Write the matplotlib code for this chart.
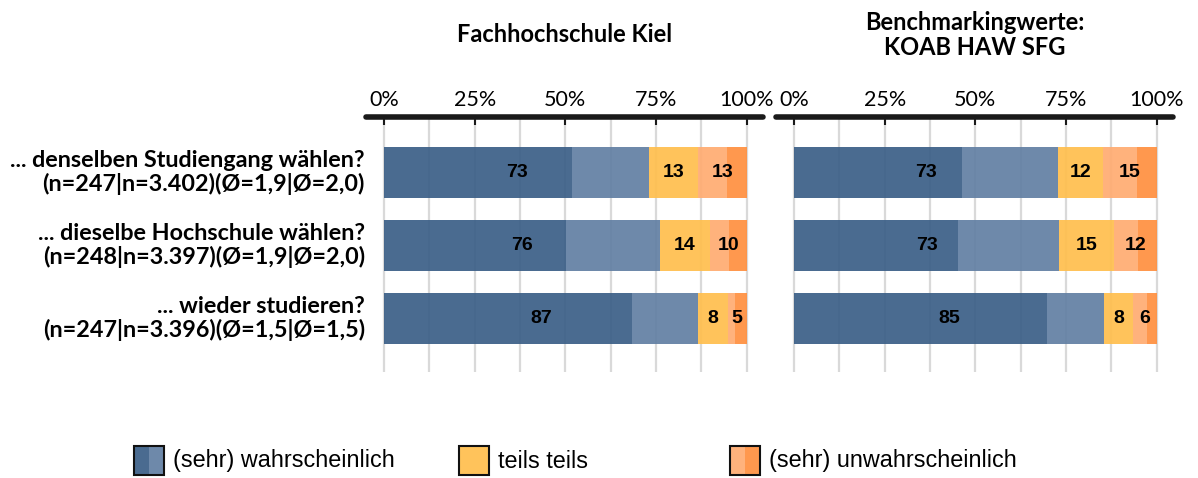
import matplotlib
matplotlib.use("Agg")
import matplotlib.pyplot as plt
from matplotlib.patches import Rectangle
import numpy as np

# questions (two lines each)
questions = ["... denselben Studiengang wählen?",
             "... dieselbe Hochschule wählen?",
             "... wieder studieren?"]
n_info = ["(n=247|n=3.402)(Ø=1,9|Ø=2,0)",
          "(n=248|n=3.397)(Ø=1,9|Ø=2,0)",
          "(n=247|n=3.396)(Ø=1,5|Ø=1,5)"]

# Fachhochschule Kiel (%)
kiel_sehr_w = [51.7, 50.2, 68.4]
kiel_w = [21.4, 25.9, 18.2]
kiel_teils = [13.6, 13.7, 8.2]
kiel_u = [7.9, 5.3, 2.1]
kiel_sehr_u = [5.4, 4.9, 3.1]
kiel_lbl_w = [73, 76, 87]
kiel_lbl_t = [13, 14, 8]
kiel_lbl_u = [13, 10, 5]

# Benchmarking KOAB HAW SFG (%)
koab_sehr_w = [46.2, 45.1, 69.7]
koab_w = [26.5, 28.0, 15.8]
koab_teils = [12.5, 15.0, 8.0]
koab_u = [9.3, 6.8, 3.8]
koab_sehr_u = [5.5, 5.1, 2.7]
koab_lbl_w = [73, 73, 85]
koab_lbl_t = [12, 15, 8]
koab_lbl_u = [15, 12, 6]

ticks = [0, 25, 50, 75, 100]
tick_labels = ["0%", "25%", "50%", "75%", "100%"]

legend_labels = ["(sehr) wahrscheinlich", "teils teils", "(sehr) unwahrscheinlich"]

# base colours (drawn with alpha so grid lines shine through)
c_dblue = "#3c6088"
c_lblue = "#6380a4"
c_yellow = "#ffbf4e"
c_lorange = "#ffac72"
c_orange = "#ff9040"
c_grid = "#d9d9d9"
bar_alpha = 0.93

label_font = ["Lato", "DejaVu Sans"]
num_font = ["Liberation Sans Narrow", "Liberation Sans", "DejaVu Sans"]
leg_font = ["Liberation Sans Narrow", "Liberation Sans", "DejaVu Sans"]

W, H = 1198, 478
fig = plt.figure(figsize=(W / 100, H / 100), dpi=100)

def px_axes(x0, x1, y0, y1):
    return fig.add_axes([x0 / W, 1 - y1 / H, (x1 - x0) / W, (y1 - y0) / H])

ppu = 3.627  # pixels per percent
panels = [
    (384, [kiel_sehr_w, kiel_w, kiel_teils, kiel_u, kiel_sehr_u],
     kiel_lbl_w, kiel_lbl_t, kiel_lbl_u),
    (794, [koab_sehr_w, koab_w, koab_teils, koab_u, koab_sehr_u],
     koab_lbl_w, koab_lbl_t, koab_lbl_u),
]
colors = [c_dblue, c_lblue, c_yellow, c_lorange, c_orange]

y = np.arange(len(questions))
row_px = 73.0
top_px, bot_px = 117, 372
ylim_top = -(172.5 - top_px) / row_px
ylim_bot = 2 + (bot_px - 318.5) / row_px

axes = []
for x0, segs, lw_, lt_, lu_ in panels:
    ax = px_axes(x0 - 5 * ppu, x0 + 105 * ppu, top_px, bot_px)
    axes.append(ax)
    ax.set_xlim(-5, 105)
    ax.set_ylim(ylim_bot, ylim_top)
    for g in np.arange(0, 100.1, 12.5):
        ax.vlines(g, ylim_bot, ylim_top, color=c_grid, lw=1.6, zorder=0)
    left = np.zeros(len(y))
    for vals, col in zip(segs, colors):
        ax.barh(y, vals, left=left, height=0.70, color=col, alpha=bar_alpha,
                edgecolor="none", zorder=2)
        left = left + np.array(vals)
    s = [np.array(v) for v in segs]
    pos_w = (s[0] + s[1]) / 2
    pos_t = s[0] + s[1] + s[2] / 2
    pos_u = s[0] + s[1] + s[2] + (s[3] + s[4]) / 2
    for i in range(len(y)):
        for xp, val in ((pos_w[i], lw_[i]), (pos_t[i], lt_[i]), (pos_u[i], lu_[i])):
            ax.text(xp, y[i], str(val), ha="center", va="center",
                    fontsize=14, fontweight="bold", family=num_font, zorder=3)
    ax.plot([-5, 104.5], [ylim_top, ylim_top], color="#1a1a1a", lw=4,
            solid_capstyle="round", clip_on=False, zorder=5)
    ax.xaxis.tick_top()
    ax.set_xticks(ticks)
    ax.set_xticklabels(tick_labels, family=label_font, fontsize=15.5)
    ax.tick_params(axis="x", direction="in", length=6, width=1.5,
                   color="#1a1a1a", pad=5)
    ax.set_yticks([])
    for sp in ax.spines.values():
        sp.set_visible(False)

# question labels
for i in range(len(questions)):
    axes[0].text(-5.3, y[i], questions[i] + "\n" + n_info[i], ha="right",
                 va="center", fontsize=16.8, fontweight="bold", family=label_font,
                 linespacing=1.12, multialignment="right")

# titles
fig.text(565 / W, 1 - 35 / H, "Fachhochschule Kiel", ha="center", va="center",
         fontsize=17, fontweight="bold", family=label_font)
fig.text(975 / W, 1 - 35 / H, "Benchmarkingwerte:\nKOAB HAW SFG", ha="center",
         va="center", fontsize=17, fontweight="bold", family=label_font,
         linespacing=1.1)

# legend
lax = fig.add_axes([0, 0, 1, 1])
lax.set_xlim(0, W)
lax.set_ylim(H, 0)
lax.axis("off")
leg_x = [134, 459, 730]
leg_cols = [(c_dblue, c_lblue), (c_yellow, c_yellow), (c_lorange, c_orange)]
for lx, (ca, cb), lab in zip(leg_x, leg_cols, legend_labels):
    lax.add_patch(Rectangle((lx, 446), 15, 29, facecolor=ca, alpha=bar_alpha,
                            edgecolor="none"))
    lax.add_patch(Rectangle((lx + 15, 446), 15, 29, facecolor=cb, alpha=bar_alpha,
                            edgecolor="none"))
    lax.add_patch(Rectangle((lx, 446), 30, 29, facecolor="none",
                            edgecolor="#111111", lw=1.5))
    lax.text(lx + 39, 461, lab, ha="left", va="center", fontsize=16.8,
             family=leg_font)

fig.savefig("out.png", dpi=100)
